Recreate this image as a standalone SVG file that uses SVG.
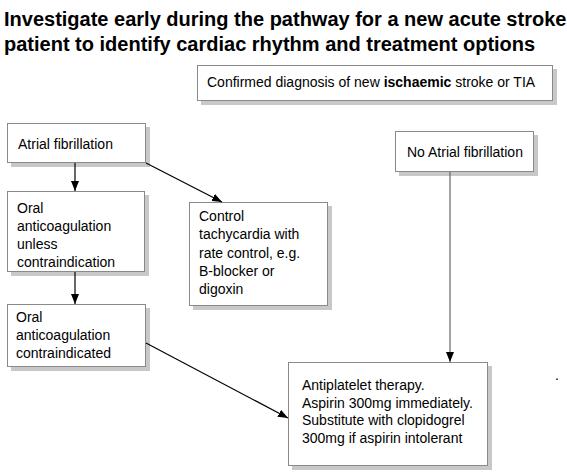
<svg xmlns="http://www.w3.org/2000/svg" width="567" height="473" viewBox="0 0 567 473">
<defs>
<style>
.t{font-family:"Liberation Sans",Arial,sans-serif;font-size:14px;fill:#000}
.title{font-family:"Liberation Sans",Arial,sans-serif;font-size:20px;font-weight:bold;fill:#000}
.box{fill:#fff;stroke:#8a8a8a;stroke-width:1}
.sh{fill:#c8c8c8}
.c{fill:none;stroke:#000;stroke-width:1.2}
</style>
<marker id="ah" markerUnits="userSpaceOnUse" markerWidth="10" markerHeight="8" refX="10" refY="4" orient="auto">
<path d="M0,0 L10,4 L0,8 z" fill="#000"/>
</marker>
</defs>
<rect width="567" height="473" fill="#fff"/>
<g id="title">
<text class="title" x="4" y="26">Investigate early during the pathway for a new acute stroke</text>
<text class="title" x="4" y="51">patient to identify cardiac rhythm and treatment options</text>
</g>
<g id="confirmed">
<rect class="sh" x="201" y="69" width="356" height="36"/>
<rect class="box" x="197.5" y="65.5" width="355" height="35"/>
<text class="t" x="207" y="87">Confirmed diagnosis of new <tspan font-weight="bold">ischaemic</tspan> stroke or TIA</text>
</g>
<g id="af">
<rect class="sh" x="11" y="127" width="139" height="40"/>
<rect class="box" x="7.5" y="123.5" width="138" height="39"/>
<text class="t" x="18" y="149">Atrial fibrillation</text>
</g>
<g id="noaf">
<rect class="sh" x="399" y="135" width="139" height="41"/>
<rect class="box" x="395.5" y="131.5" width="138" height="40"/>
<text class="t" x="407" y="157">No Atrial fibrillation</text>
</g>
<g id="oac">
<rect class="sh" x="11" y="195" width="138" height="81"/>
<rect class="box" x="7.5" y="191.5" width="137" height="80"/>
<text class="t" x="17" y="213"><tspan x="17">Oral</tspan><tspan x="17" dy="18">anticoagulation</tspan><tspan x="17" dy="18">unless</tspan><tspan x="17" dy="18">contraindication</tspan></text>
</g>
<g id="rate">
<rect class="sh" x="193" y="206" width="139" height="104"/>
<rect class="box" x="189.5" y="202.5" width="138" height="103"/>
<text class="t" x="199" y="221"><tspan x="199">Control</tspan><tspan x="199" dy="18.3">tachycardia with</tspan><tspan x="199" dy="18.3">rate control, e.g.</tspan><tspan x="199" dy="18.3">B-blocker or</tspan><tspan x="199" dy="18.3">digoxin</tspan></text>
</g>
<g id="oacci">
<rect class="sh" x="11" y="308" width="139" height="63"/>
<rect class="box" x="7.5" y="304.5" width="138" height="62"/>
<text class="t" x="16" y="322"><tspan x="16">Oral</tspan><tspan x="16" dy="18">anticoagulation</tspan><tspan x="16" dy="18">contraindicated</tspan></text>
</g>
<g id="antiplatelet">
<rect class="sh" x="292" y="366" width="200" height="104"/>
<rect class="box" x="288.5" y="362.5" width="199" height="103"/>
<text class="t" x="302" y="390"><tspan x="302">Antiplatelet therapy.</tspan><tspan x="302" dy="17.5">Aspirin 300mg immediately.</tspan><tspan x="302" dy="17.5">Substitute with clopidogrel</tspan><tspan x="302" dy="17.5">300mg if aspirin intolerant</tspan></text>
</g>
<g id="connectors">
<line class="c" x1="75" y1="163" x2="75" y2="191" marker-end="url(#ah)"/>
<line class="c" x1="146" y1="163" x2="222" y2="202" marker-end="url(#ah)"/>
<line class="c" x1="75" y1="272" x2="75" y2="304" marker-end="url(#ah)"/>
<line class="c" x1="146" y1="343" x2="288" y2="418" marker-end="url(#ah)"/>
<line class="c" x1="450" y1="172" x2="450" y2="362" stroke="#666" style="stroke:#666" marker-end="url(#ah)"/>
</g>
<text class="t" x="555" y="380">.</text>
</svg>
